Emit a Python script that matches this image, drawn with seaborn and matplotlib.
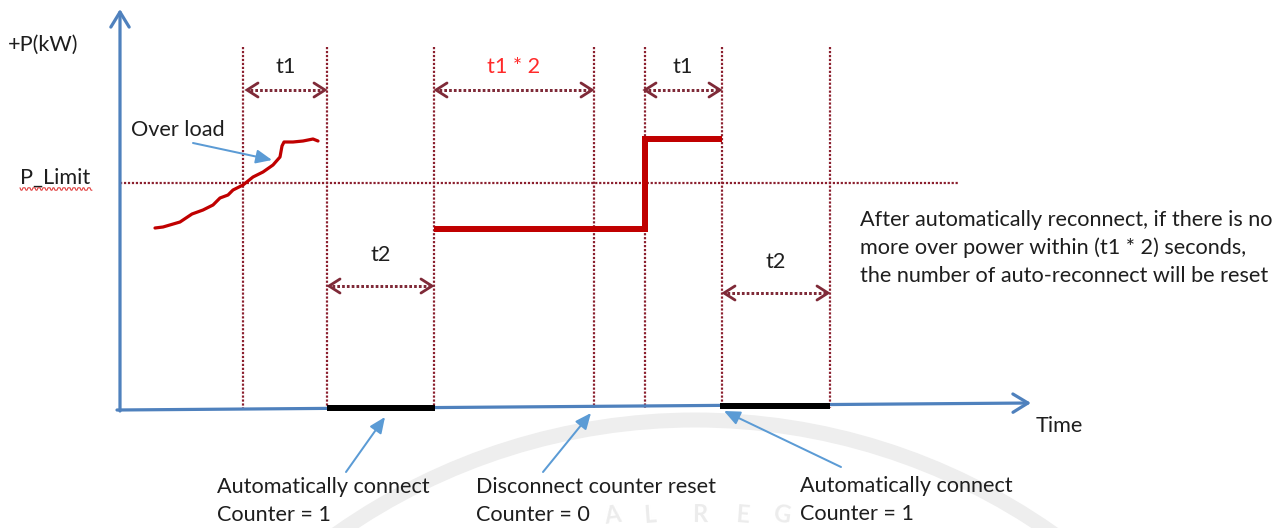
import numpy as np
import pandas as pd
import matplotlib
matplotlib.use("Agg")
import matplotlib.pyplot as plt
from matplotlib.patches import Arc
import seaborn as sns

# ---------------- data (pixel-like diagram units) ----------------
event_t = [243, 327, 434, 594, 645, 722, 830]      # vertical dotted event lines
p_limit = 183                                       # P_Limit level
overload_t = [155, 163, 180, 192, 203, 213, 220, 228, 233, 243, 253, 263, 273, 280, 282, 284, 293, 303, 313, 318]
overload_p = [228, 227, 222, 214, 210, 205, 198, 195, 190, 185, 177, 172, 165, 157, 146, 142, 142, 141, 139, 141]
step_t = [434, 645, 645, 722]
step_p = [229, 229, 139, 139]
off_periods = [(327, 435, 408), (720, 830, 406)]    # disconnected intervals on time axis
span_labels = ["t1", "t1 * 2", "t1", "t2", "t2"]
span_start = [247, 436, 645, 329, 724]
span_end = [325, 592, 720, 432, 828]
span_level = [90, 90, 90, 286, 293]
bottom_notes = ["Automatically connect\nCounter = 1",
                "Disconnect counter reset\nCounter = 0",
                "Automatically connect\nCounter = 1"]
note_xy = [(217, 487), (476, 487), (800, 486)]
note_arrow_from = [(346, 472), (543, 472), (841, 467)]
note_arrow_to = [(385, 417), (591, 413), (724, 411)]
side_note = ("After automatically reconnect, if there is no\n"
             "more over power within (t1 * 2) seconds,\n"
             "the number of auto-reconnect will be reset")
watermark_letters = ["A", "L", "R", "E", "G"]
watermark_x = [612, 650, 700, 742, 782]

# ---------------- style ----------------
sns.set_theme(style="white")
plt.rcParams['font.family'] = ['Lato', 'DejaVu Sans']

BLUE = "#4F81BD"
ABLUE = "#5B9BD5"
DOT = "#8B1F2E"
ARR = "#7F2A38"
RED = "#C00000"
TXT = "#1e1e1e"
FS = 15.6
LINE = 28
PX = 0.72  # points per pixel at 100 dpi

fig = plt.figure(figsize=(12.86, 5.28), dpi=100)
ax = fig.add_axes([0, 0, 1, 1])

# watermark (faint)
wm = "#eeeeee"
cx, cy, R = 695, 1041, 621
ax.add_patch(Arc((cx, cy), 2 * R, 2 * R, theta1=200, theta2=340, color=wm, lw=15 * PX, zorder=0))
for ch, x in zip(watermark_letters, watermark_x):
    rot = -np.rad2deg(np.arcsin((x - cx) / R))
    ax.text(x, 515, ch, fontsize=17, color="#ececec", ha="center", va="center",
            rotation=rot, fontweight="bold", zorder=0)

# vertical dotted event lines
for t in event_t:
    ax.plot([t, t], [47, 408], color=DOT, lw=2.2 * PX, ls=(0, (1, 0.8)), zorder=2)
# P_Limit dotted line
ax.plot([120, 958], [p_limit, p_limit], color=DOT, lw=2.2 * PX, ls=(0, (1, 0.8)), zorder=2)

# axes arrows
ax.annotate("", xy=(1031, 403), xytext=(117, 410),
            arrowprops=dict(arrowstyle="->,head_length=0.9,head_width=0.55", color=BLUE,
                            lw=3.2 * PX, shrinkA=0, shrinkB=0), zorder=3)
ax.annotate("", xy=(120, 9), xytext=(120, 411),
            arrowprops=dict(arrowstyle="->,head_length=0.9,head_width=0.55", color=BLUE,
                            lw=3.2 * PX, shrinkA=0, shrinkB=0), zorder=3)

# disconnected periods (black bars)
for a, b, y in off_periods:
    ax.plot([a, b], [y, y], color="black", lw=6 * PX, solid_capstyle="butt", zorder=4)

# power curves via seaborn
df1 = pd.DataFrame({"t": overload_t, "p": overload_p})
sns.lineplot(data=df1, x="t", y="p", ax=ax, color=RED, lw=3.2 * PX, sort=False,
             estimator=None, zorder=5)
df2 = pd.DataFrame({"t": step_t, "p": step_p})
sns.lineplot(data=df2, x="t", y="p", ax=ax, color=RED, lw=6 * PX, sort=False,
             estimator=None, zorder=5, solid_capstyle="butt", solid_joinstyle="miter")
ax.set_xlim(0, 1286)
ax.set_ylim(528, 0)
ax.axis("off")

# span arrows (dotted, chevron heads)
for lab, a, b, y in zip(span_labels, span_start, span_end, span_level):
    ax.plot([a + 3, b - 3], [y, y], color=ARR, lw=3 * PX, ls=(0, (0.9, 0.7)), zorder=3)
    for tip, d in ((a, 1), (b, -1)):
        ax.plot([tip + d * 11, tip, tip + d * 11], [y - 7, y, y + 7], color=ARR,
                lw=2.8 * PX, solid_capstyle="round", solid_joinstyle="miter", zorder=3)
    ty = y - 23 if y < 200 else y - 31
    ax.text((a + b) / 2, ty, lab, fontsize=FS, ha="center", va="center",
            color="#FF2A2A" if "*" in lab else TXT)

# labels
ax.text(8, 45, "+P(kW)", fontsize=FS, ha="left", va="center", color=TXT)
ax.text(20, 178, "P_Limit", fontsize=FS, ha="left", va="center", color=TXT)
sq_x = np.arange(20, 93, 1.0)
ax.plot(sq_x, 189 + 1.2 * np.sign(np.sin(sq_x * np.pi / 2.5)), color="#E04040", lw=0.8, zorder=3)
ax.text(131, 130, "Over load", fontsize=FS, ha="left", va="center", color=TXT)
ax.annotate("", xy=(272, 160), xytext=(193, 143),
            arrowprops=dict(arrowstyle="-|>,head_length=0.8,head_width=0.35", color=ABLUE,
                            lw=2 * PX, shrinkA=0, shrinkB=0))
ax.text(1036, 426, "Time", fontsize=FS, ha="left", va="center", color=TXT)
for i, line in enumerate(side_note.split("\n")):
    ax.text(860, 220 + i * LINE, line, fontsize=FS, ha="left", va="center", color=TXT)

for txt, (x, y), fr, to in zip(bottom_notes, note_xy, note_arrow_from, note_arrow_to):
    for i, line in enumerate(txt.split("\n")):
        ax.text(x, y + i * LINE, line, fontsize=FS, ha="left", va="center", color=TXT)
    ax.annotate("", xy=to, xytext=fr,
                arrowprops=dict(arrowstyle="-|>,head_length=0.8,head_width=0.35", color=ABLUE,
                                lw=2 * PX, shrinkA=0, shrinkB=0))

fig.savefig("out.png", dpi=100)
